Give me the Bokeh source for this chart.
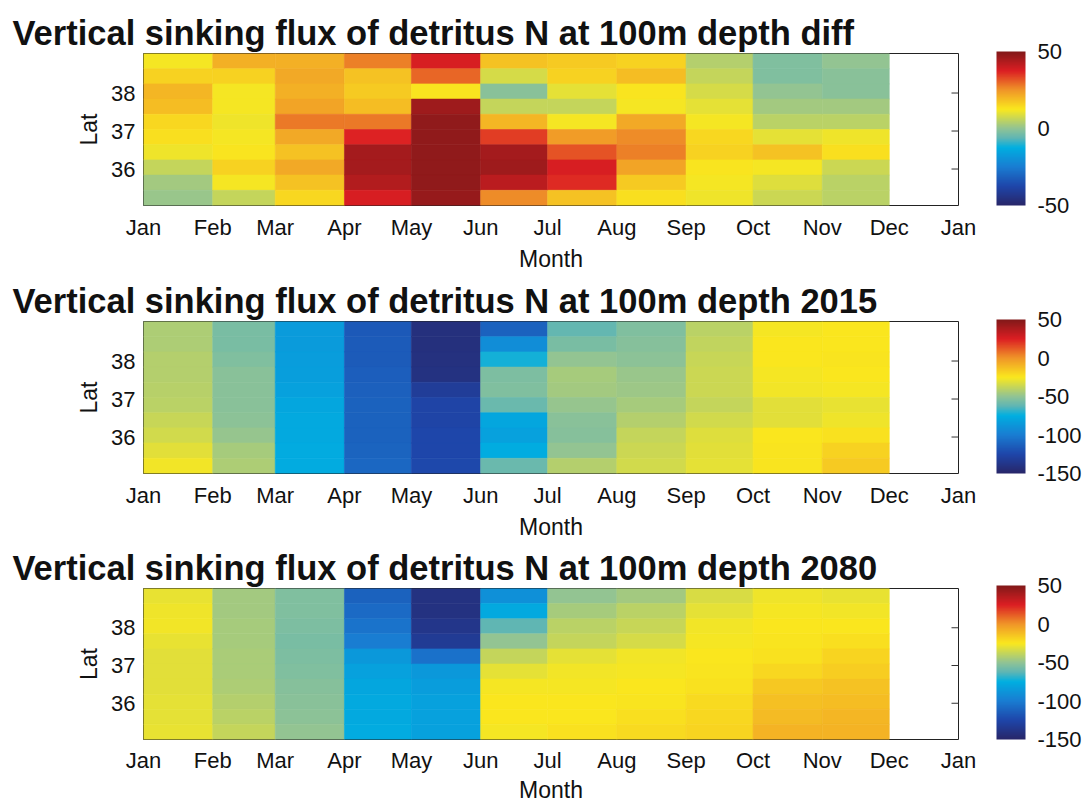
from bokeh.plotting import figure
from bokeh.models import (ColumnDataSource, LinearColorMapper, ColorBar, FixedTicker,
                          Range1d, Title)
from bokeh.transform import transform
from bokeh.layouts import column
from bokeh.embed import file_html
from bokeh.resources import INLINE

# ---------------- data ----------------
month_names = ["Jan", "Feb", "Mar", "Apr", "May", "Jun", "Jul", "Aug", "Sep", "Oct", "Nov", "Dec", "Jan"]
month_days = [0, 31, 59, 90, 120, 151, 181, 212, 243, 273, 304, 334, 365]
# latitude band edges, north -> south
lat_edges = [39.04, 38.64, 38.24, 37.84, 37.44, 37.04, 36.64, 36.24, 35.84, 35.44, 35.04]

# values per month (Jan..Nov), per latitude band from north to south
diff_vals = [
    [12, 16, 20, 19, 15, 14, 11, 6, 2, 1],          # Jan
    [21, 16, 12, 12, 11, 12, 13, 16, 12, 6],        # Feb
    [21, 22, 21, 23, 28, 22, 18, 22, 18, 15],       # Mar
    [27, 18, 17, 19, 28, 37, 45, 45, 43, 38],       # Apr
    [38, 30, 13, 46, 48, 48, 48, 48, 48, 47],       # May
    [18, 8, -1, 6, 20, 34, 45, 46, 42, 26],         # Jun
    [17, 16, 10, 6, 12, 24, 32, 38, 36, 18],        # Jul
    [16, 19, 13, 12, 22, 26, 27, 23, 17, 14],       # Aug
    [4, 6, 8, 10, 12, 15, 16, 13, 12, 11],          # Sep
    [-2, -2, 0, 2, 5, 10, 18, 12, 9, 7],            # Oct
    [0, -1, -1, 2, 5, 11, 14, 7, 5, 5],             # Nov
]
y2015_vals = [
    [-43, -43, -42, -42, -41, -40, -37, -35, -31, -27],
    [-56, -56, -54, -52, -52, -52, -51, -49, -45, -43],
    [-85, -85, -84, -83, -82, -79, -78, -78, -77, -77],
    [-116, -115, -115, -114, -113, -112, -112, -112, -111, -110],
    [-142, -142, -141, -140, -132, -126, -126, -125, -125, -124],
    [-112, -92, -72, -55, -54, -60, -79, -82, -76, -60],
    [-61, -56, -50, -45, -46, -49, -52, -53, -50, -42],
    [-54, -53, -51, -48, -47, -45, -42, -38, -36, -35],
    [-40, -39, -37, -36, -36, -38, -35, -32, -31, -30],
    [-26, -25, -25, -26, -27, -31, -31, -25, -24, -24],
    [-25, -25, -24, -25, -26, -29, -28, -23, -18, -16],
]
y2080_vals = [
    [-29, -28, -27, -29, -31, -31, -31, -30, -30, -29],
    [-46, -46, -45, -45, -44, -44, -43, -42, -40, -38],
    [-54, -54, -55, -56, -55, -54, -53, -52, -51, -50],
    [-112, -108, -104, -100, -86, -82, -79, -78, -78, -77],
    [-140, -140, -137, -133, -105, -86, -84, -82, -82, -82],
    [-90, -78, -62, -50, -38, -30, -26, -25, -25, -26],
    [-50, -45, -40, -38, -30, -27, -26, -25, -25, -23],
    [-46, -40, -37, -34, -27, -26, -25, -24, -22, -21],
    [-33, -30, -27, -26, -25, -24, -23, -21, -20, -19],
    [-28, -26, -25, -24, -23, -20, -15, -13, -11, -9],
    [-29, -27, -25, -22, -19, -17, -14, -12, -10, -9],
]

titles = [
    "Vertical sinking flux of detritus N at 100m depth diff",
    "Vertical sinking flux of detritus N at 100m depth 2015",
    "Vertical sinking flux of detritus N at 100m depth 2080",
]
lat_ticks = [36, 37, 38]
cbar_ticks_diff = [-50, 0, 50]
cbar_ticks_abs = [-150, -100, -50, 0, 50]

# ---------------- palette (printed jet look) ----------------
anchors = [
    (0.0, (40, 38, 105)), (0.125, (30, 70, 170)), (0.25, (25, 125, 210)),
    (0.375, (0, 175, 225)), (0.4375, (95, 182, 180)), (0.5, (145, 195, 148)),
    (0.625, (250, 232, 30)), (0.75, (240, 150, 40)), (0.875, (220, 30, 35)),
    (1.0, (130, 25, 25)),
]
palette = []
for k in range(256):
    t = k / 255
    for a in range(len(anchors) - 1):
        t0, c0 = anchors[a]
        t1, c1 = anchors[a + 1]
        if t0 <= t <= t1:
            f = (t - t0) / (t1 - t0)
            c = tuple(int(round(c0[i] + f * (c1[i] - c0[i]))) for i in range(3))
            palette.append("#%02x%02x%02x" % c)
            break

FONT = "Liberation Sans"
TXT = "#111111"


def make_panel(title, vals, low, high, cticks, height, top_border, tick_standoff, label_standoff):
    left, right, top, bottom, val = [], [], [], [], []
    for i, mv in enumerate(vals):
        for j, v in enumerate(mv):
            left.append(month_days[i])
            right.append(month_days[i + 1])
            top.append(lat_edges[j])
            bottom.append(lat_edges[j + 1])
            val.append(v)
    src = ColumnDataSource(dict(left=left, right=right, top=top, bottom=bottom, val=val))
    mapper = LinearColorMapper(palette=palette, low=low, high=high)

    p = figure(width=1084, height=height, output_backend="svg", toolbar_location=None,
               x_range=Range1d(month_days[0], month_days[-1]),
               y_range=Range1d(lat_edges[-1], lat_edges[0]),
               min_border_left=143, min_border_right=121, min_border_top=top_border,
               min_border_bottom=height - top_border - 154, title=None)
    p.quad(left="left", right="right", top="top", bottom="bottom", source=src,
           fill_color=transform("val", mapper), line_color=transform("val", mapper), line_width=0.6)
    # inward tick marks on the right edge of the box
    p.scatter(x=[month_days[-1]] * len(lat_ticks), y=lat_ticks, marker="dash", size=14,
              line_color="#333333", line_width=1)
    p.grid.visible = False
    p.outline_line_color = "#222222"
    p.outline_line_width = 1
    p.background_fill_color = "white"
    p.border_fill_color = "white"

    t = Title(text=title, text_font=FONT, text_font_size="34.5px", text_font_style="bold",
              align="left", offset=-131, standoff=4, text_color=TXT)
    p.add_layout(t, "above")

    xa = p.xaxis[0]
    xa.ticker = FixedTicker(ticks=month_days)
    xa.major_label_overrides = {d: n for d, n in zip(month_days, month_names)}
    xa.axis_label = "Month"
    ya = p.yaxis[0]
    ya.ticker = FixedTicker(ticks=lat_ticks)
    ya.axis_label = "Lat"
    for ax in (xa, ya):
        ax.axis_line_color = None
        ax.major_tick_line_color = None
        ax.minor_tick_line_color = None
        ax.major_tick_in = 0
        ax.major_tick_out = 0
        ax.major_label_text_font = FONT
        ax.major_label_text_font_size = "22px"
        ax.major_label_text_color = TXT
        ax.axis_label_text_font = FONT
        ax.axis_label_text_font_size = "23px"
        ax.axis_label_text_font_style = "normal"
        ax.axis_label_text_color = TXT
    xa.major_label_standoff = tick_standoff
    xa.axis_label_standoff = label_standoff
    ya.major_label_standoff = 8
    ya.axis_label_standoff = 6

    cb = ColorBar(color_mapper=mapper, ticker=FixedTicker(ticks=cticks), width=29, height=154,
                  padding=0, margin=0, location=(38, 0),
                  major_label_overrides={v: str(v) for v in cticks},
                  major_label_text_font=FONT, major_label_text_font_size="22px",
                  major_label_text_color=TXT, label_standoff=12,
                  major_tick_line_color=None, bar_line_color=None,
                  background_fill_color=None, border_line_color=None)
    p.add_layout(cb, "right")
    return p


p1 = make_panel(titles[0], diff_vals, -50, 50, cbar_ticks_diff, 274, 53, 9, 3)
p2 = make_panel(titles[1], y2015_vals, -150, 50, cbar_ticks_abs, 268, 47, 9, 3)
p3 = make_panel(titles[2], y2080_vals, -150, 50, cbar_ticks_abs, 263, 46, 8, 1)

layout = column(p1, p2, p3, spacing=0)
open("out.html", "w").write(file_html(layout, INLINE))
